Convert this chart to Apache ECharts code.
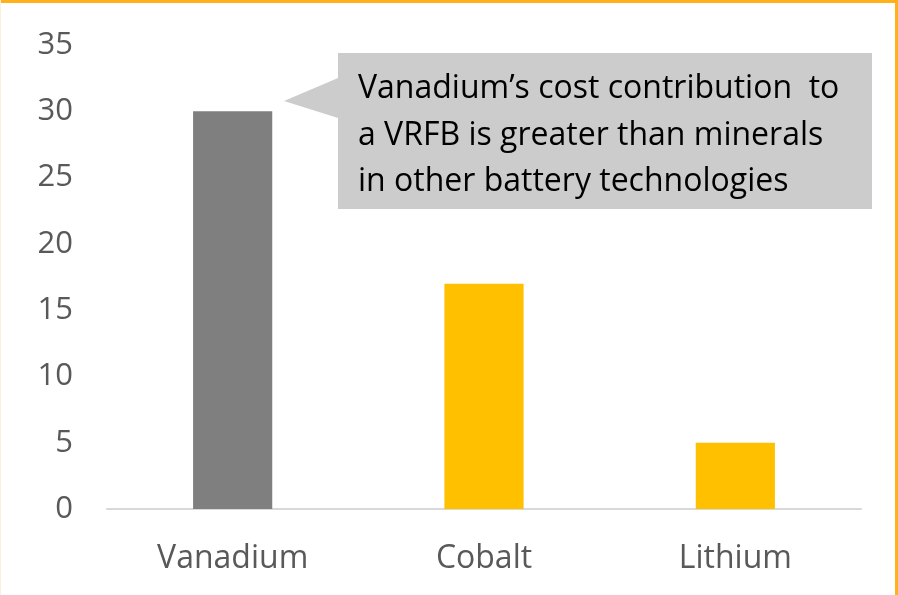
<!DOCTYPE html>
<html>
<head>
<meta charset="utf-8">
<script src="https://cdn.jsdelivr.net/npm/echarts@6/dist/echarts.min.js"></script>
<style>
  html, body { margin: 0; padding: 0; background: #fff; }
  #chart { width: 898px; height: 595px; }
</style>
</head>
<body>
<div id="chart"></div>
<script>
// data
var categories = ['Vanadium', 'Cobalt', 'Lithium'];
var values = [30, 17, 5];
var barColors = ['#7f7f7f', '#ffc000', '#ffc000'];
var calloutLines = [
    'Vanadium\u2019s cost contribution  to',
    'a VRFB is greater than minerals',
    'in other battery technologies'
];

var chart = echarts.init(document.getElementById('chart'));

var option = {
    backgroundColor: '#fff',
    animation: false,
    grid: { left: 107, right: 37, top: 45, bottom: 86 },
    xAxis: {
        type: 'category',
        data: categories,
        axisLine: { lineStyle: { color: '#d9d9d9', width: 2 } },
        axisTick: { show: false },
        axisLabel: {
            color: '#595959',
            fontFamily: 'Open Sans',
            fontSize: 32,
            margin: 34
        }
    },
    yAxis: {
        type: 'value',
        min: 0,
        max: 35,
        interval: 5,
        axisLine: { show: false },
        axisTick: { show: false },
        splitLine: { show: false },
        axisLabel: {
            color: '#595959',
            fontFamily: 'Open Sans',
            fontSize: 31,
            margin: 34
        }
    },
    series: [{
        type: 'bar',
        barWidth: '31.5%',
        data: values.map(function (v, i) {
            return { value: v, itemStyle: { color: barColors[i] } };
        })
    }],
    graphic: [
        // outer frame
        { type: 'rect', shape: { x: 0, y: 0, width: 898, height: 3 }, style: { fill: '#ffb01a' } },
        { type: 'rect', shape: { x: 895, y: 0, width: 3, height: 595 }, style: { fill: '#ffb01a' } },
        { type: 'rect', shape: { x: 0, y: 0, width: 1, height: 595 }, style: { fill: '#fdf1dc' } },
        // callout
        { type: 'polygon', shape: { points: [[338, 53], [872, 53], [872, 209], [338, 209], [338, 118], [284, 101], [338, 78]] },
          style: { fill: '#cccccc' } },
        { type: 'text', left: 358, top: 66,
          style: { text: calloutLines.join('\n'), fill: '#000', font: '32px "Open Sans"', lineHeight: 46.5 } }
    ]
};

chart.setOption(option);
</script>
</body>
</html>
